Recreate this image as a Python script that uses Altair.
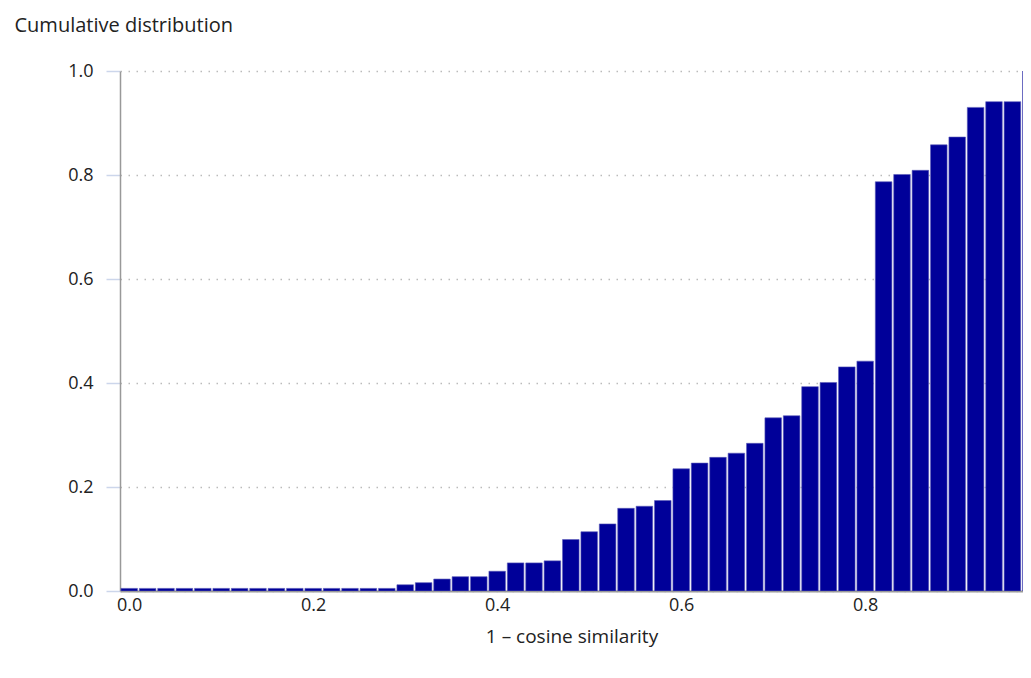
import altair as alt
import pandas as pd

# bin centres (1 - cosine similarity)
bins = [0.00, 0.02, 0.04, 0.06, 0.08, 0.10, 0.12, 0.14, 0.16, 0.18,
        0.20, 0.22, 0.24, 0.26, 0.28, 0.30, 0.32, 0.34, 0.36, 0.38,
        0.40, 0.42, 0.44, 0.46, 0.48, 0.50, 0.52, 0.54, 0.56, 0.58,
        0.60, 0.62, 0.64, 0.66, 0.68, 0.70, 0.72, 0.74, 0.76, 0.78,
        0.80, 0.82, 0.84, 0.86, 0.88, 0.90, 0.92, 0.94, 0.96, 0.98, 1.00]

# cumulative distribution values
cdf = [0.005, 0.005, 0.005, 0.005, 0.005, 0.005, 0.005, 0.005, 0.005, 0.005,
       0.005, 0.005, 0.005, 0.005, 0.005, 0.012, 0.016, 0.023, 0.0275, 0.0275,
       0.038, 0.054, 0.054, 0.058, 0.099, 0.114, 0.129, 0.159, 0.163, 0.174,
       0.235, 0.246, 0.257, 0.265, 0.284, 0.333, 0.337, 0.393, 0.401, 0.431,
       0.442, 0.787, 0.801, 0.809, 0.858, 0.873, 0.930, 0.941, 0.941, 1.000,
       1.000]

x_ticks = [0.0, 0.2, 0.4, 0.6, 0.8, 1.0]
y_ticks = [0.0, 0.2, 0.4, 0.6, 0.8, 1.0]

df = pd.DataFrame({"bin": bins, "cdf": cdf})

FONT = "Open Sans"
TEXT = "#222222"
PLOT_W = 903
UNIT = 920.0  # pixels per unit on x
x_min = -0.01
x_max = x_min + PLOT_W / UNIT

chart = (
    alt.Chart(df)
    .transform_calculate(x0="datum.bin - 0.009", x1="datum.bin + 0.009")
    .mark_bar(color="#000099", stroke="#5a5ab8", strokeWidth=0.6, clip=True)
    .encode(
        x=alt.X(
            "x0:Q",
            scale=alt.Scale(domain=[x_min, x_max], nice=False, zero=False),
            axis=alt.Axis(
                values=x_ticks,
                format=".1f",
                title="1 – cosine similarity",
                titleFontSize=19,
                ticks=False,
                grid=False,
                domainColor="#999999",
                domainWidth=2,
                labelPadding=5,
                titlePadding=13,
            ),
        ),
        x2="x1:Q",
        y=alt.Y(
            "cdf:Q",
            scale=alt.Scale(domain=[0, 1], nice=False),
            axis=alt.Axis(
                values=y_ticks,
                format=".1f",
                title="Cumulative distribution",
                titleFontSize=20,
                titleAngle=0,
                titleAlign="left",
                titleBaseline="middle",
                titleX=-106,
                titleY=-46,
                tickSize=14,
                tickColor="#ccd6eb",
                tickWidth=1.5,
                labelPadding=13,
                domainColor="#999999",
                domainWidth=1.5,
                grid=True,
                gridColor="#bbbbbb",
                gridDash=[1.5, 6.5],
                gridWidth=1.5,
            ),
        ),
        y2=alt.datum(0),
    )
    .properties(
        width=PLOT_W,
        height=520,
        autosize=alt.AutoSizeParams(type="none"),
        padding={"left": 112, "top": 63, "right": 0, "bottom": 70},
    )
    .configure_view(stroke=None)
    .configure_axis(
        labelFont=FONT,
        titleFont=FONT,
        labelFontSize=18,
        titleFontWeight="normal",
        labelColor=TEXT,
        titleColor=TEXT,
    )
)

chart.save("out.html", embed_options={"renderer": "svg", "actions": False})
